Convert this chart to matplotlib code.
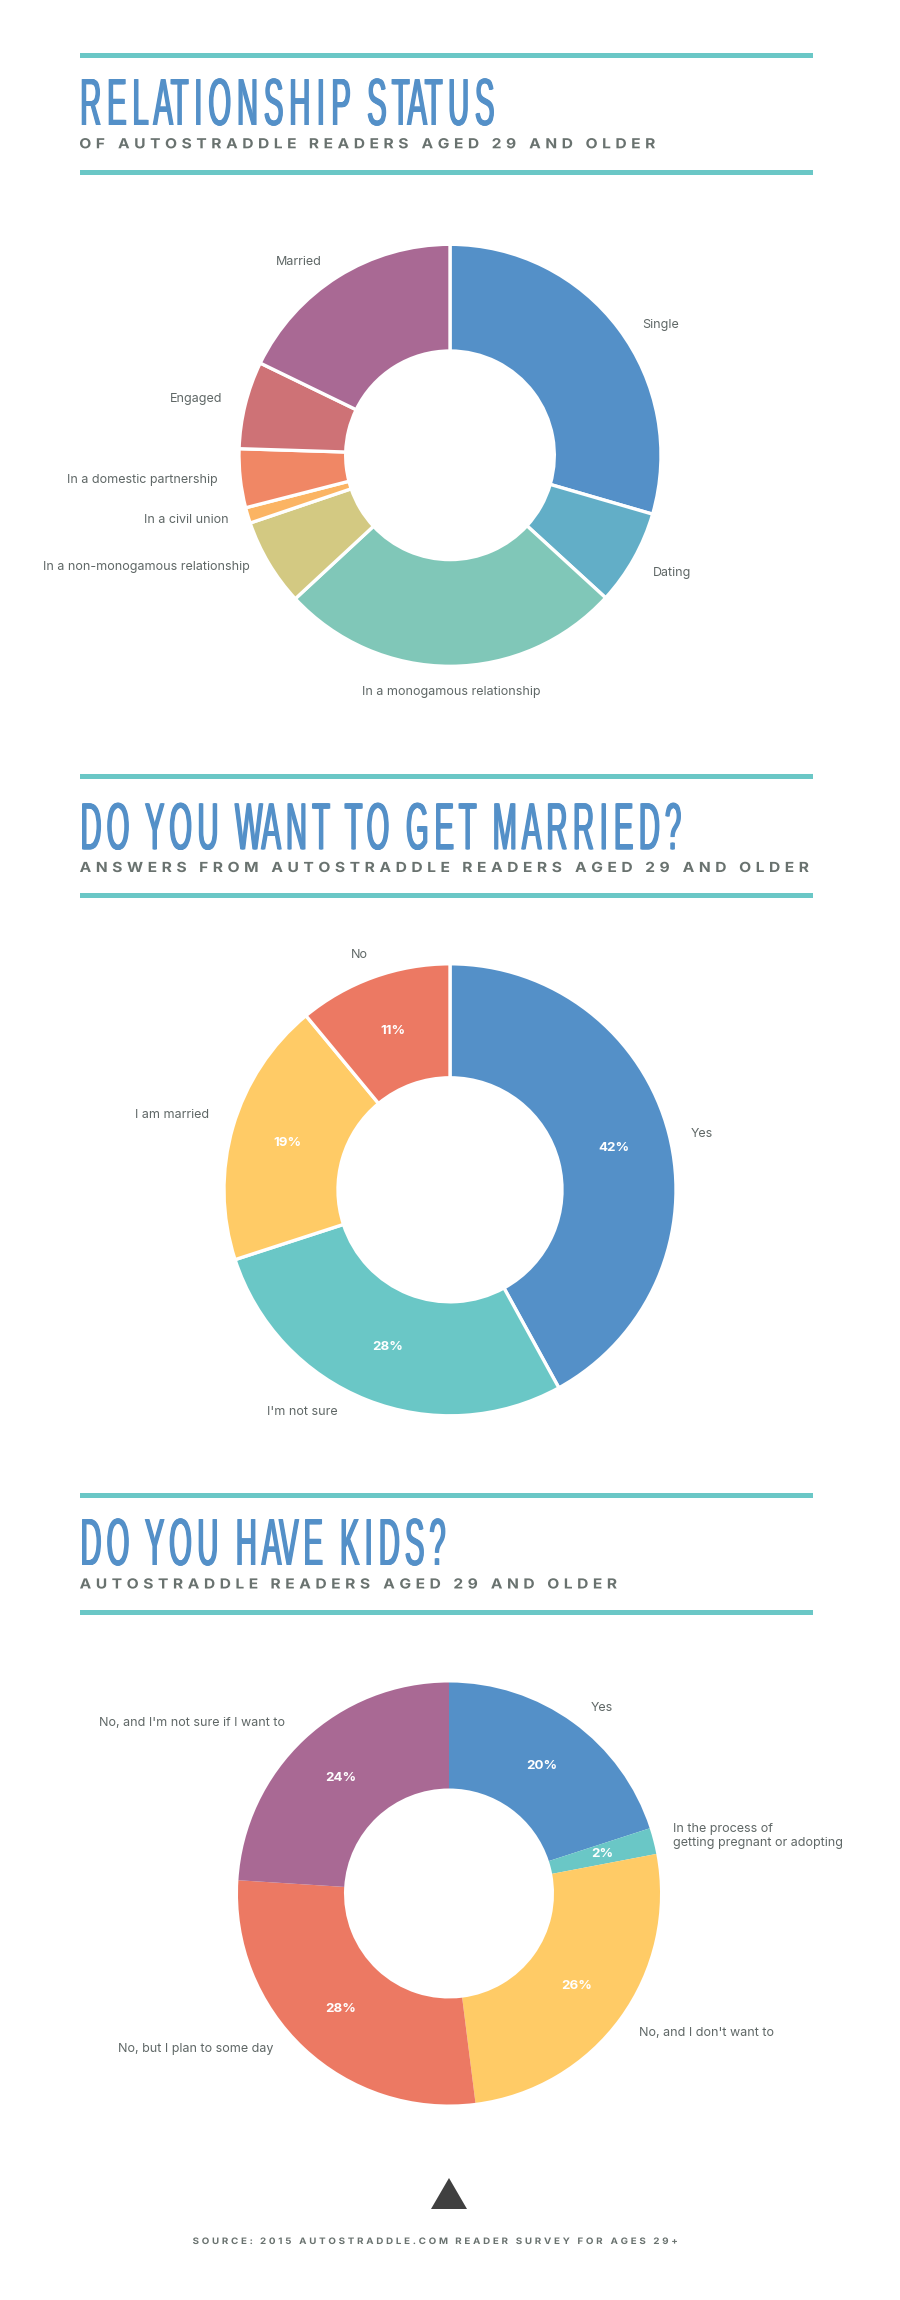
import numpy as np
import matplotlib
matplotlib.use("Agg")
import matplotlib.pyplot as plt
from matplotlib.patches import Rectangle, Polygon
from matplotlib.path import Path
from matplotlib.patheffects import AbstractPathEffect
from matplotlib.transforms import Affine2D, IdentityTransform

# ---------- data ----------
status_labels = ["Single", "Dating", "In a monogamous relationship",
                 "In a non-monogamous relationship", "In a civil union",
                 "In a domestic partnership", "Engaged", "Married"]
status_values = [29.5, 7.3, 26.3, 6.7, 1.2, 4.5, 6.7, 17.8]

marry_labels = ["Yes", "I'm not sure", "I am married", "No"]
marry_values = [42, 28, 19, 11]

kids_labels = ["Yes", "In the process of\ngetting pregnant or adopting",
               "No, and I don't want to", "No, but I plan to some day",
               "No, and I'm not sure if I want to"]
kids_values = [20, 2, 26, 28, 24]

titles = ["RELATIONSHIP STATUS", "DO YOU WANT TO GET MARRIED?", "DO YOU HAVE KIDS?"]
subtitles = ["OF AUTOSTRADDLE READERS AGED 29 AND OLDER",
             "ANSWERS FROM AUTOSTRADDLE READERS AGED 29 AND OLDER",
             "AUTOSTRADDLE READERS AGED 29 AND OLDER"]
source_text = "SOURCE: 2015 AUTOSTRADDLE.COM READER SURVEY FOR AGES 29+"

# ---------- styles ----------
BLUE, TEAL, YELLOW, RED, PURPLE = "#5490C8", "#6AC7C6", "#FFCB66", "#EC7963", "#A96994"
status_colors = [BLUE, "#62AEC7", "#80C7B8", "#D3C982", "#FBB463", "#F08765", "#CE7276", PURPLE]
marry_colors = [BLUE, TEAL, YELLOW, RED]
kids_colors = [BLUE, TEAL, YELLOW, RED, PURPLE]
GREY = "#69726F"
LABEL_GREY = "#5F6766"

W, H = 900, 2300
plt.rcParams["font.family"] = ["Inter", "DejaVu Sans"]
fig = plt.figure(figsize=(W / 100, H / 100), dpi=100, facecolor="white")


def fx(x):
    return x / W


def fy(y):
    return 1 - y / H


class FitInk(AbstractPathEffect):
    """Fit the ink of one line of text to x0..x1: glyphs are stretched by
    glyph_scale (and y_scale upward from the baseline), then the letters are
    spaced out until the line fills the span. `embolden` thickens vertical stems."""

    def __init__(self, text, x0, x1, glyph_scale=1.0, word_units=3, y_scale=1.0, embolden=0.0):
        self.text, self.x0, self.x1 = text, x0, x1
        self.gs, self.word_units, self.ys, self.embolden = glyph_scale, word_units, y_scale, embolden

    def draw_path(self, renderer, gc, tpath, affine, rgbFace=None):
        base = affine.transform_point((0, 0))[1]
        p = affine.transform_path(tpath)
        v, c = p.vertices.copy(), p.codes
        v[:, 1] = base + (v[:, 1] - base) * self.ys
        real = c != Path.CLOSEPOLY
        starts = list(np.flatnonzero(c == Path.MOVETO)) + [len(c)]
        spans = []
        for a, b in zip(starts[:-1], starts[1:]):
            xs = v[a:b, 0][real[a:b]]
            spans.append([xs.min(), xs.max(), a, b])
        spans.sort()
        glyphs = []
        for s in spans:
            if glyphs and s[0] < glyphs[-1]["hi"] - 0.3:
                glyphs[-1]["hi"] = max(glyphs[-1]["hi"], s[1])
                glyphs[-1]["parts"].append((s[2], s[3]))
            else:
                glyphs.append({"lo": s[0], "hi": s[1], "parts": [(s[2], s[3])]})
        # word breaks, taken from the string when every letter was separated
        letters = [ch for ch in self.text if ch != " "]
        breaks = set()
        if len(letters) == len(glyphs):
            n = 0
            for word in self.text.split(" "):
                n += len(word)
                breaks.add(n)
        gaps = [g1["lo"] - g0["hi"] for g0, g1 in zip(glyphs[:-1], glyphs[1:])]
        units = [self.word_units if (i + 1) in breaks else 1 for i in range(len(gaps))]
        gaps = [0.0 if u > 1 else g for g, u in zip(gaps, units)]
        widths = [(g["hi"] - g["lo"]) * self.gs for g in glyphs]
        t = ((self.x1 - self.x0 - self.embolden) - sum(widths) - sum(gaps)) / max(sum(units), 1)
        x = self.x0
        for i, g in enumerate(glyphs):
            for a, b in g["parts"]:
                v[a:b, 0] = x + (v[a:b, 0] - g["lo"]) * self.gs
            x += widths[i]
            if i < len(gaps):
                x += gaps[i] + units[i] * t
        out = Path(v, c)
        shifts = [0.0] if not self.embolden else np.linspace(0, self.embolden, 4)
        for dx in shifts:
            renderer.draw_path(gc, out, Affine2D().translate(dx, 0), rgbFace)


def rule(y0, y1, x0=80, x1=813):
    fig.add_artist(Rectangle((fx(x0), fy(y1)), (x1 - x0) / W, (y1 - y0) / H,
                             transform=fig.transFigure, facecolor=TEAL, edgecolor="none"))


def fitted(text, x0, x1, baseline, size, color, family, weight="normal",
           glyph_scale=1.0, word_units=3, y_scale=1.0, embolden=0.0):
    t = fig.text(fx(x0), fy(baseline), text, ha="left", va="baseline", fontsize=size,
                 color=color, family=family, fontweight=weight)
    t.set_path_effects([FitInk(text, x0, x1, glyph_scale, word_units, y_scale, embolden)])
    return t


def donut(cx, cy, R, r, values, colors, sep=0.0, pct=False):
    ax = fig.add_axes([(cx - R) / W, 1 - (cy + R) / H, 2 * R / W, 2 * R / H])
    kw = dict(autopct="%d%%", pctdistance=(R + r) / 2 / R,
              textprops=dict(color="white", fontsize=9.6, fontweight="bold",
                             family=["Inter", "DejaVu Sans"])) if pct else {}
    ax.pie(values, colors=colors, startangle=90, counterclock=False, radius=1,
           labeldistance=None,
           wedgeprops=dict(width=1 - r / R, edgecolor="white" if sep else "none", linewidth=sep),
           normalize=True, **kw)
    ax.set_xlim(-1, 1)
    ax.set_ylim(-1, 1)
    ax.axis("off")
    ax.patch.set_visible(False)
    for a in ax.patches:
        a.set_clip_on(False)
    return ax


def labels(names, xy, ha="center"):
    for name, (x, y) in zip(names, xy):
        fig.text(fx(x), fy(y), name, ha=ha, va="center", fontsize=9.0, color=LABEL_GREY,
                 linespacing=1.2)


# ---------- layout ----------
rule(53, 58); rule(170, 175)
rule(774, 779); rule(893, 898)
rule(1493, 1498); rule(1610, 1615)

TITLE_FONT = ["Liberation Sans"]
SUB_FONT = ["Inter", "DejaVu Sans"]
title_spans = [(81.7, 494, 125), (82, 681, 849.3), (82, 445.4, 1565)]
sub_spans = [(80, 655, 148.3), (80, 808.6, 872), (80, 616.7, 1588.5)]
for txt, (a, b, base) in zip(titles, title_spans):
    fitted(txt, a, b, base, 30, BLUE, TITLE_FONT, glyph_scale=0.70, word_units=2,
           y_scale=1.6, embolden=1.8)
for txt, (a, b, base) in zip(subtitles, sub_spans):
    fitted(txt, a, b, base, 10.0, GREY, SUB_FONT, weight="bold", glyph_scale=1.12)

donut(450, 455.3, 211, 104.3, status_values, status_colors, sep=2.4)
donut(450, 1189.8, 226, 112, marry_values, marry_colors, sep=2.4, pct=True)
donut(449, 1893.5, 211, 105, kids_values, kids_colors, pct=True)

status_xy = [(661, 325.4), (671.6, 572.5), (451.5, 691.6), (146, 567.3),
             (186.2, 519.6), (142.8, 480.4), (196.5, 398.6), (299, 262)]
marry_xy = [(702, 1134), (302.8, 1411.8), (172.5, 1115.3), (359.8, 955.3)]
kids_xy = [(602, 1708.3), (706.3, 2032.7), (196, 2048.8), (191.7, 1723.4)]
labels(status_labels, status_xy)
labels(marry_labels, marry_xy)
labels([kids_labels[0]] + kids_labels[2:], kids_xy)
labels([kids_labels[1]], [(673.3, 1836)], ha="left")

fig.add_artist(Polygon([(fx(431), fy(2209)), (fx(467), fy(2209)), (fx(449), fy(2178))],
                       transform=fig.transFigure, facecolor="#404040", edgecolor="none"))
fitted(source_text, 193, 677, 2244, 6.4, GREY, SUB_FONT, weight="bold", glyph_scale=1.1)

fig.savefig("out.png", dpi=100, facecolor="white")
